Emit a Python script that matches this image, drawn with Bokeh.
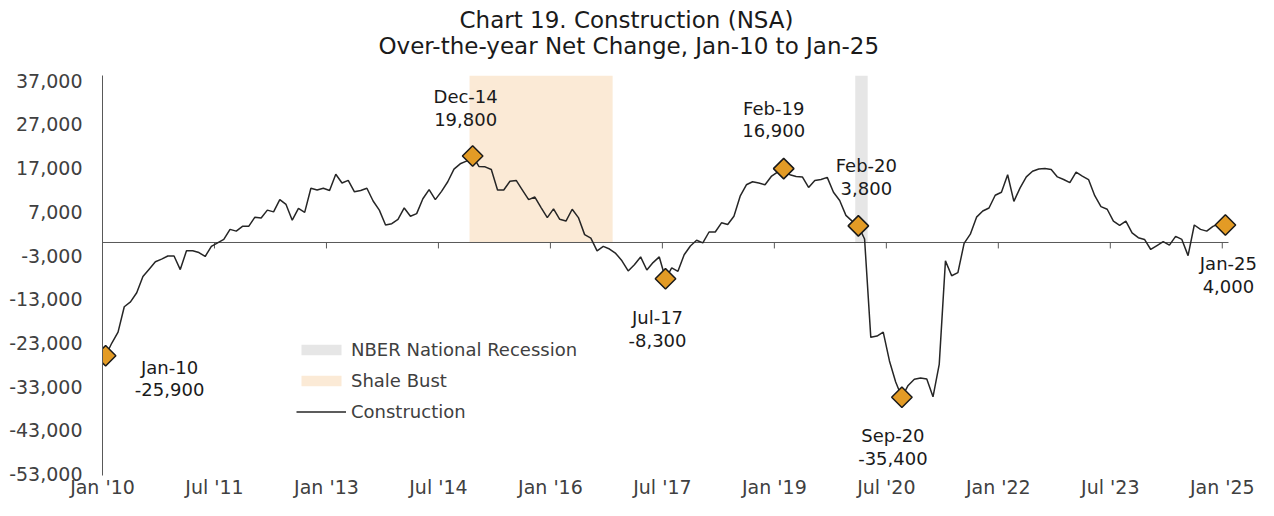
import numpy as np
import pandas as pd
from bokeh.plotting import figure
from bokeh.models import (Range1d, FixedTicker, NumeralTickFormatter, Title,
                          ColumnDataSource, LabelSet, Legend, LegendItem)
from bokeh.core.properties import value
from bokeh.embed import file_html
from bokeh.resources import INLINE

# ---------------- data (over-the-year net change, NSA) ----------------
y2010 = [-25900, -23000, -20500, -14700, -13600, -11500, -7800, -6100, -4400, -3800, -3100, -3100]
y2011 = [-6200, -1900, -1900, -2300, -3200, -900, -100, 700, 3000, 2600, 3700, 3700]
y2012 = [5800, 5600, 7400, 7000, 9800, 8700, 5100, 7800, 6900, 12400, 12000, 12400]
y2013 = [11900, 15600, 13600, 14200, 11600, 11900, 12400, 9500, 7400, 4000, 4300, 5300]
y2014 = [7900, 6000, 6600, 10000, 12100, 9800, 11700, 13900, 16800, 18000, 18600, 19800]
y2015 = [17400, 17300, 16700, 12000, 12000, 14000, 14200, 12000, 9800, 10400, 8000, 5700]
y2016 = [7700, 5300, 4900, 7600, 5700, 1800, 1000, -1900, -900, -1500, -2500, -4200]
y2017 = [-6500, -5100, -3300, -6300, -4600, -3300, -8300, -5800, -6600, -2800, -800, 500]
y2018 = [-100, 2400, 2400, 4500, 4100, 6000, 10600, 13200, 13900, 13600, 13200, 15100]
y2019 = [16100, 16900, 15500, 15100, 15000, 12600, 14200, 14400, 14900, 11500, 9600, 6200]
y2020 = [4900, 3800, 800, -21700, -21400, -20500, -27100, -31900, -35400, -32700, -31300, -31000]
y2021 = [-31200, -35300, -27900, -4200, -7600, -6900, -200, 1900, 5800, 7200, 7900, 10800]
y2022 = [11500, 15500, 9400, 12500, 15000, 16300, 16800, 16900, 16700, 15000, 14400, 13700]
y2023 = [16100, 15200, 14400, 10700, 8200, 7600, 4900, 3900, 4900, 2200, 1100, 700]
y2024 = [-1600, -700, 200, -600, 1400, 700, -3000, 4000, 3000, 2600, 3700, 4300]
y2025 = [4000]

construction = (y2010 + y2011 + y2012 + y2013 + y2014 + y2015 + y2016 + y2017 +
                y2018 + y2019 + y2020 + y2021 + y2022 + y2023 + y2024 + y2025)
months = pd.date_range("2010-01-01", periods=len(construction), freq="MS")

highlight_months = ["2010-01", "2014-12", "2017-07", "2019-02", "2020-02", "2020-09", "2025-01"]
shale_bust = ("2014-12", "2016-10")
nber_recession = ("2020-02", "2020-03")

x_tick_labels = ["Jan '10", "Jul '11", "Jan '13", "Jul '14", "Jan '16", "Jul '17",
                 "Jan '19", "Jul '20", "Jan '22", "Jul '23", "Jan '25"]
x_tick_months = ["2010-01", "2011-07", "2013-01", "2014-07", "2016-01", "2017-07",
                 "2019-01", "2020-07", "2022-01", "2023-07", "2025-01"]
y_ticks = list(range(-53000, 37001, 10000))

title_line1 = "Chart 19. Construction (NSA)"
title_line2 = "Over-the-year Net Change, Jan-10 to Jan-25"

# ---------------- styling / layout ----------------
FONT = "DejaVu Sans"
W, H = 1258, 500
B_LEFT, B_RIGHT, B_TOP, B_BOTTOM = 102, 1, 75, 22
FRAME_W = W - B_LEFT - B_RIGHT
FRAME_H = H - B_TOP - B_BOTTOM
PX_PER_MONTH = 6.221
Y_MAX = 38200
Y_MIN = -53300
X_MAX = FRAME_W / PX_PER_MONTH   # a little room right of the last month for its label
AXIS_GREY = "#595959"
LABEL_GREY = "#404040"
TEXT_DARK = "#1a1a1a"
ORANGE = "#E39B25"
SHALE = "#FBEAD6"
NBER = "#E6E6E6"
# label block offsets (screen px) for highlighted points, same order as highlight_months
label_dx = [64, -7, -8, -10, 8, -9, 3]
label_dy = [-23, 48, -50, 49, 49, -50, -50]
LINE_GAP = 22.5

# ---------------- helpers ----------------
month_strs = [m.strftime("%Y-%m") for m in months]
def idx(mstr):
    return month_strs.index(mstr)

xs = [i + 0.5 for i in range(len(construction))]

p = figure(title=None, width=W, height=H,
           min_border_left=B_LEFT, min_border_right=B_RIGHT,
           min_border_top=B_TOP, min_border_bottom=B_BOTTOM,
           x_range=Range1d(0, X_MAX), y_range=Range1d(Y_MIN, Y_MAX),
           output_backend="svg", toolbar_location=None,
           background_fill_color="white", border_fill_color="white")
p.outline_line_color = None
p.xgrid.grid_line_color = None
p.ygrid.grid_line_color = None

# shaded periods
r_nber = p.quad(left=[idx(nber_recession[0])], right=[idx(nber_recession[1]) + 1],
                bottom=[0], top=[Y_MAX], fill_color=NBER, line_color=None)
r_shale = p.quad(left=[idx(shale_bust[0])], right=[idx(shale_bust[1]) + 1],
                 bottom=[0], top=[Y_MAX], fill_color=SHALE, line_color=None)

# category axis at zero with tick marks
p.segment(x0=[0], x1=[len(construction)], y0=[0], y1=[0], line_color=AXIS_GREY, line_width=1)
tick_x = [idx(m) for m in x_tick_months]
tick_len = 6 * (Y_MAX - Y_MIN) / FRAME_H
p.segment(x0=tick_x, x1=tick_x, y0=[0] * len(tick_x), y1=[-tick_len] * len(tick_x),
          line_color=AXIS_GREY, line_width=1)

# data line
r_line = p.line(xs, construction, line_color="#262626", line_width=1.5)

# highlighted markers
hi = [idx(m) for m in highlight_months]
mx = [xs[i] for i in hi]
my = [construction[i] for i in hi]
p.scatter(mx, my, marker="square", size=14.5, angle=np.pi / 4,
          fill_color=ORANGE, line_color=TEXT_DARK, line_width=1.5)

date_txt = [f"{months[i].strftime('%b')}-{months[i].strftime('%y')}" for i in hi]
val_txt = [f"{construction[i]:,}" for i in hi]
ann = ColumnDataSource(dict(x=mx, y=my, date=date_txt, val=val_txt, dx=label_dx,
                            dy_top=[d + LINE_GAP / 2 for d in label_dy],
                            dy_bot=[d - LINE_GAP / 2 for d in label_dy]))
for col, dycol in (("date", "dy_top"), ("val", "dy_bot")):
    p.add_layout(LabelSet(x="x", y="y", text=col, x_offset="dx", y_offset=dycol, source=ann,
                          text_align="center", text_baseline="middle",
                          text_font=value(FONT), text_font_size="18px", text_color=TEXT_DARK))

# axes
p.yaxis.ticker = FixedTicker(ticks=y_ticks)
p.yaxis.formatter = NumeralTickFormatter(format="0,0")
p.yaxis.axis_line_color = AXIS_GREY
p.yaxis.major_tick_line_color = None
p.yaxis.minor_tick_line_color = None
p.yaxis.major_tick_out = 0
p.yaxis.major_tick_in = 0
p.yaxis.minor_tick_out = 0
p.yaxis.major_label_standoff = 20
p.yaxis.major_label_text_font = FONT
p.yaxis.major_label_text_font_size = "19px"
p.yaxis.major_label_text_color = LABEL_GREY

p.xaxis.ticker = FixedTicker(ticks=tick_x)
p.xaxis.major_label_overrides = {t: lab for t, lab in zip(tick_x, x_tick_labels)}
p.xaxis.axis_line_color = None
p.xaxis.major_tick_line_color = None
p.xaxis.minor_tick_line_color = None
p.xaxis.major_tick_out = 0
p.xaxis.major_tick_in = 0
p.xaxis.minor_tick_out = 0
p.xaxis.major_label_standoff = 0
p.xaxis.major_label_text_font = FONT
p.xaxis.major_label_text_font_size = "19px"
p.xaxis.major_label_text_color = LABEL_GREY

# legend
legend = Legend(items=[LegendItem(label="NBER National Recession", renderers=[r_nber]),
                       LegendItem(label="Shale Bust", renderers=[r_shale]),
                       LegendItem(label="Construction", renderers=[r_line])],
                location=(194, 53), glyph_width=50, glyph_height=13, label_height=19,
                spacing=10, label_standoff=5, padding=0, margin=0,
                border_line_color=None, background_fill_alpha=0,
                label_text_font=FONT, label_text_font_size="18px", label_text_color=LABEL_GREY)
p.add_layout(legend)

# titles (bottom line first; later ones stack above)
p.add_layout(Title(text=title_line2, align="left", offset=276,
                   text_font=FONT, text_font_size="23px", text_font_style="normal",
                   text_color=TEXT_DARK, standoff=34), "above")
p.add_layout(Title(text=title_line1, align="left", offset=357,
                   text_font=FONT, text_font_size="23px", text_font_style="normal",
                   text_color=TEXT_DARK, standoff=-38), "above")

open("out.html", "w").write(file_html(p, INLINE))
